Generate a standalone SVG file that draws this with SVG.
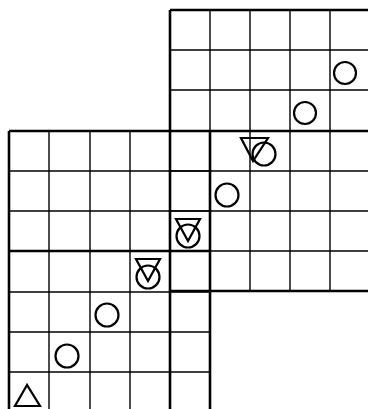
<svg xmlns="http://www.w3.org/2000/svg" width="368" height="409" viewBox="0 0 368 409">
<style>
.thin{stroke:#000;stroke-width:1.4;fill:none}
.thick{stroke:#000;stroke-width:2.6;fill:none}
.sym{stroke:#000;stroke-width:2.2;fill:none}
</style>
<rect width="368" height="409" fill="#fff"/>
<g id="grid">
<g class="thin">
<path d="M210 10V291M250 10V291M290 10V291M330 10V291"/>
<path d="M170 50H368M170 90H368M170 171H368M170 211H368M170 251H368"/>
<path d="M49 131V409M90 131V409M130 131V409"/>
<path d="M9 171H210M9 211H210M9 292H210M9 332H210M9 372H210"/>
</g>
<g class="thick">
<path d="M170 10H368M170 10V409M9 131H368M9 131V409M210 131V409M9 251H210M170 291H368"/>
</g>
</g>
<g id="c1"><circle class="sym" cx="345" cy="73" r="11"/></g>
<g id="c2"><circle class="sym" cx="305" cy="113" r="11"/></g>
<g id="tc1"><polygon class="sym" points="241,138 268,138 253,161"/><circle class="sym" cx="264" cy="154" r="11.5"/></g>
<g id="c3"><circle class="sym" cx="227" cy="195" r="11.5"/></g>
<g id="tc2"><polygon class="sym" points="176,219 200,219 188,241"/><circle class="sym" cx="188" cy="236" r="11.5"/></g>
<g id="tc3"><polygon class="sym" points="136,259 160,259 148,281"/><circle class="sym" cx="148" cy="277" r="11.5"/></g>
<g id="c4"><circle class="sym" cx="107" cy="315" r="11.5"/></g>
<g id="c5"><circle class="sym" cx="67" cy="356" r="11.5"/></g>
<g id="t1"><polygon class="sym" points="27,385 15,406 40,406"/></g>
</svg>
